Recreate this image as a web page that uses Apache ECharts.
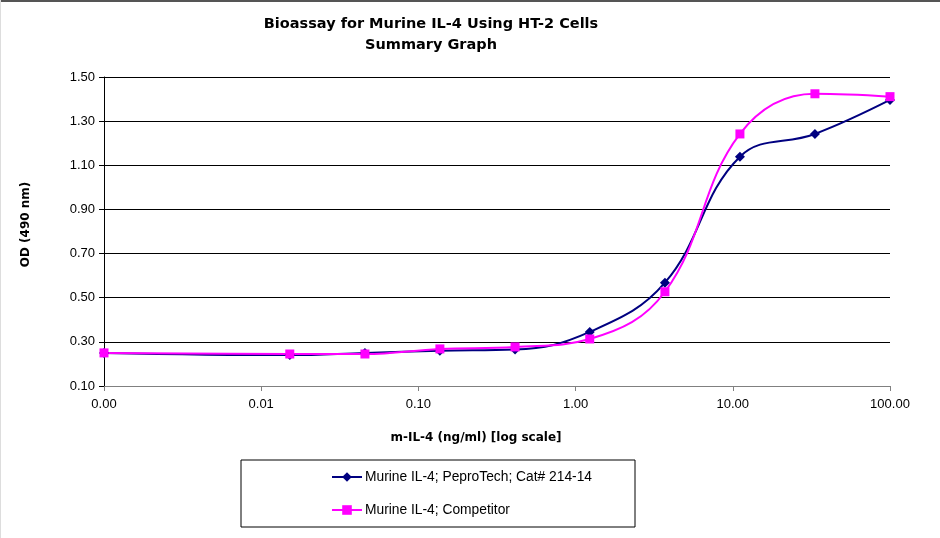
<!DOCTYPE html>
<html>
<head>
<meta charset="utf-8">
<script src="https://cdn.jsdelivr.net/npm/echarts@6/dist/echarts.min.js"></script>
<style>
html,body{margin:0;padding:0;background:#fff;}
#c{width:940px;height:538px;}
</style>
</head>
<body>
<div id="c"></div>
<script>
// concentration (ng/ml); the zero-dose point is plotted at the axis minimum 0.001
const dose = [0.001, 0.0152, 0.0457, 0.137, 0.412, 1.23, 3.70, 11.1, 33.3, 100];
const peproTech = [0.25, 0.24, 0.25, 0.26, 0.265, 0.345, 0.568, 1.139, 1.242, 1.396];
const competitor = [0.25, 0.245, 0.245, 0.268, 0.277, 0.313, 0.527, 1.242, 1.424, 1.411];
const yTicks = [0.1, 0.3, 0.5, 0.7, 0.9, 1.1, 1.3, 1.5];
const seriesNames = ['Murine IL-4; PeproTech; Cat# 214-14', 'Murine IL-4; Competitor'];

const font = 'Liberation Sans, Arial, sans-serif';
const wide = 'DejaVu Sans, sans-serif';
const chart = echarts.init(document.getElementById('c'));
chart.setOption({
  animation: false,
  backgroundColor: '#fff',
  title: {
    text: 'Bioassay for Murine IL-4 Using HT-2 Cells\nSummary Graph',
    left: 426, top: 9, textAlign: 'center',
    textStyle: {fontFamily: wide, fontSize: 14.5, fontWeight: 'bold', color: '#000', lineHeight: 21}
  },
  graphic: [
    {type: 'rect', shape: {x: 0, y: 0, width: 940, height: 2}, style: {fill: '#555'}},
    {type: 'rect', shape: {x: 0, y: 0, width: 1, height: 538}, style: {fill: '#ddd'}}
  ],
  grid: {left: 104, right: 50, top: 77, bottom: 152},
  xAxis: {
    type: 'log', logBase: 10, min: 0.001, max: 100,
    name: 'm-IL-4 (ng/ml) [log scale]', nameLocation: 'middle', nameGap: 46,
    nameTextStyle: {fontFamily: wide, fontSize: 12, fontWeight: 'bold', color: '#000', padding: [0, 42, 0, 0]},
    axisLine: {lineStyle: {color: '#808080', width: 1}},
    axisTick: {show: true, length: 5, lineStyle: {color: '#808080'}},
    minorTick: {show: false},
    splitLine: {show: false},
    axisLabel: {fontFamily: font, fontSize: 13, color: '#000', margin: 12,
      formatter: v => Number(v).toFixed(2)}
  },
  yAxis: {
    type: 'value', min: 0.1, max: 1.5,
    name: 'OD (490 nm)', nameLocation: 'middle', nameGap: 72, nameRotate: 90,
    nameTextStyle: {fontFamily: wide, fontSize: 12, fontWeight: 'bold', color: '#000', padding: [0, 0, 0, 14]},
    axisLine: {show: true, lineStyle: {color: '#000', width: 1}},
    axisTick: {show: true, inside: false, length: 5, customValues: yTicks, lineStyle: {color: '#000'}},
    splitLine: {show: true, lineStyle: {color: '#000', width: 1}},
    axisLabel: {fontFamily: font, fontSize: 13, color: '#000', margin: 9,
      customValues: yTicks, formatter: v => Number(v).toFixed(2)}
  },
  legend: {
    orient: 'vertical', left: 241, top: 460,
    padding: [10, 43, 10, 90], itemGap: 19, itemWidth: 30, itemHeight: 12,
    borderColor: '#000', borderWidth: 1, backgroundColor: '#fff',
    textStyle: {fontFamily: font, fontSize: 13.8, color: '#000', padding: [0, 0, 0, -2]},
    data: seriesNames
  },
  series: [
    {
      name: seriesNames[0], type: 'line', smooth: 0.4,
      data: dose.map((d, i) => [d, peproTech[i]]),
      symbol: 'diamond', symbolSize: 10,
      lineStyle: {color: '#000080', width: 2},
      itemStyle: {color: '#000080'}
    },
    {
      name: seriesNames[1], type: 'line', smooth: 0.4,
      data: dose.map((d, i) => [d, competitor[i]]),
      symbol: 'rect', symbolSize: 9,
      lineStyle: {color: '#ff00ff', width: 2},
      itemStyle: {color: '#ff00ff'}
    }
  ]
});
</script>
</body>
</html>
